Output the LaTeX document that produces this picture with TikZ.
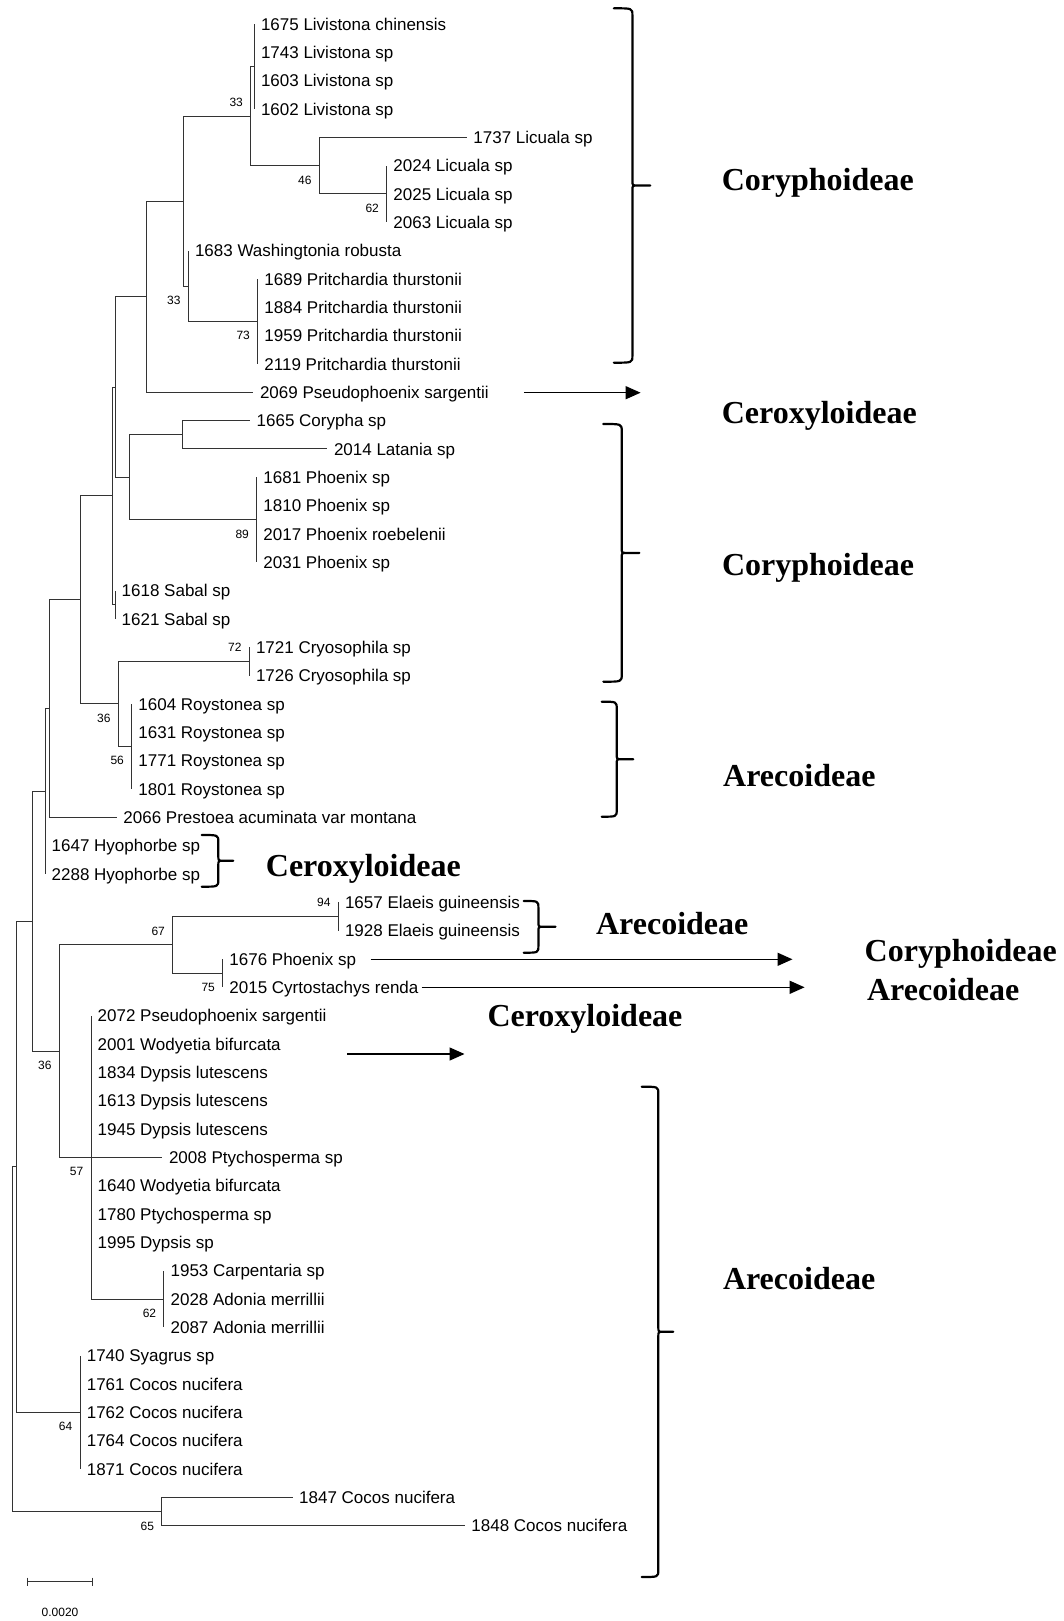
\documentclass[tikz,border=0pt]{standalone}
\usepackage{fontspec}
\setmainfont{Liberation Sans}
\newfontfamily\serifbf{Liberation Serif}
\usetikzlibrary{positioning,arrows.meta}

\def\dy{28.333}
\newcommand\grpbrace[6]{\draw[brc] (#1,#4) .. controls (#2,#4) .. (#2,{#4+7}) -- (#2,{#5-5})
  .. controls (#2,#5) .. ({#2+5},#5) -- (#3,#5)
  ({#2+5},#5) .. controls (#2,#5) .. (#2,{#5+5}) -- (#2,{#6-7}) .. controls (#2,#6) .. (#1,#6);}

\tikzset{
  leaf/.style={anchor=west,inner xsep=6.5pt,inner ysep=0pt,
    font=\fontsize{17}{20}\selectfont,text height=12.2pt,text depth=0pt},
  boot/.style={inner sep=0pt,font=\fontsize{12}{14}\selectfont,text height=8.6pt,text depth=0pt},
  br/.style={line width=1pt,draw=black!80},
  grp/.style={anchor=base west,inner sep=0pt,font=\serifbf\bfseries\fontsize{32}{36}\selectfont},
  brc/.style={line width=2.2pt,line cap=round,line join=round},
  arr/.style={line width=1.5pt,-{Triangle[length=15pt,width=13pt]}},
}

\begin{document}
\begin{tikzpicture}[x=1pt,y=-1pt]
\useasboundingbox (0,0) rectangle (1063,1621);

% leaves: tip x / label
\foreach \tx/\txt [count=\i from 0] in {
  254.3/1675 Livistona chinensis, 254.3/1743 Livistona sp, 254.3/1603 Livistona sp,
  254.3/1602 Livistona sp, 466.7/1737 Licuala sp, 386.7/2024 Licuala sp,
  386.7/2025 Licuala sp, 386.7/2063 Licuala sp, 188.3/1683 Washingtonia robusta,
  257.7/1689 Pritchardia thurstonii, 257.7/1884 Pritchardia thurstonii,
  257.7/1959 Pritchardia thurstonii, 257.7/2119 Pritchardia thurstonii,
  253.3/2069 Pseudophoenix sargentii, 250/1665 Corypha sp, 327.3/2014 Latania sp,
  256.7/1681 Phoenix sp, 256.7/1810 Phoenix sp, 256.7/2017 Phoenix roebelenii,
  256.7/2031 Phoenix sp, 115/1618 Sabal sp, 115/1621 Sabal sp,
  249.3/1721 Cryosophila sp, 249.3/1726 Cryosophila sp, 131.7/1604 Roystonea sp,
  131.7/1631 Roystonea sp, 131.7/1771 Roystonea sp, 131.7/1801 Roystonea sp,
  116.7/2066 Prestoea acuminata var montana, 45/1647 Hyophorbe sp, 45/2288 Hyophorbe sp,
  338.3/1657 Elaeis guineensis, 338.3/1928 Elaeis guineensis, 222.7/1676 Phoenix sp,
  222.7/2015 Cyrtostachys renda, 91/2072 Pseudophoenix sargentii,
  91/2001 Wodyetia bifurcata, 91/1834 Dypsis lutescens, 91/1613 Dypsis lutescens,
  91/1945 Dypsis lutescens, 162.3/2008 Ptychosperma sp, 91/1640 Wodyetia bifurcata,
  91/1780 Ptychosperma sp, 91/1995 Dypsis sp, 163.9/1953 Carpentaria sp,
  163.9/2028 Adonia merrillii, 163.9/2087 Adonia merrillii, 80.1/1740 Syagrus sp,
  80.1/1761 Cocos nucifera, 80.1/1762 Cocos nucifera, 80.1/1764 Cocos nucifera,
  80.1/1871 Cocos nucifera, 292.5/1847 Cocos nucifera, 464.7/1848 Cocos nucifera}
  \node[leaf] (t\i) at (\tx,{24+\i*\dy}) {\txt};

% internal nodes
\coordinate (nLiv) at (254.3,{24+1.5*\dy});
\coordinate (nLicIn) at (386.7,{24+6*\dy});
\coordinate (nLic) at (319.3,{24+5*\dy});
\coordinate (nLivLic) at (250.7,{24+3.25*\dy});
\coordinate (nPri) at (257.7,{24+10.5*\dy});
\coordinate (nWaPri) at (188.3,{24+9.25*\dy});
\coordinate (nPalm) at (183.3,{24+6.25*\dy});
\coordinate (nPse) at (146.7,{24+9.625*\dy});
\coordinate (nCoLa) at (182.3,{24+14.5*\dy});
\coordinate (nPho) at (256.7,{24+17.5*\dy});
\coordinate (nCoPho) at (129.3,{24+16*\dy});
\coordinate (nUp) at (115,{24+12.8125*\dy});
\coordinate (nSab) at (115,{24+20.5*\dy});
\coordinate (nSabUp) at (112.3,{24+16.656*\dy});
\coordinate (nCry) at (249.3,{24+22.5*\dy});
\coordinate (nRoy) at (131.7,{24+25.5*\dy});
\coordinate (nCryRoy) at (118.3,{24+24*\dy});
\coordinate (nCor) at (80.7,{24+20.328*\dy});
\coordinate (nPre) at (49,{24+24.164*\dy});
\coordinate (nHyo) at (45,{24+27.082*\dy});
\coordinate (nEla) at (338.3,{24+31.5*\dy});
\coordinate (nPhCy) at (222.7,{24+33.5*\dy});
\coordinate (nElaPh) at (172.7,{24+32.5*\dy});
\coordinate (nCarp) at (163.9,{24+45*\dy});
\coordinate (nDyp) at (91,{24+40*\dy});
\coordinate (nAre) at (59.3,{24+36.25*\dy});
\coordinate (nMid) at (32,{24+31.666*\dy});
\coordinate (nCoc) at (80.1,{24+49*\dy});
\coordinate (nMain) at (16.7,{24+40.333*\dy});
\coordinate (nCocB) at (161.8,{24+52.5*\dy});
\coordinate (nRoot) at (12,{24+46.417*\dy});

% branches
\foreach \p/\c in {nLiv/t0.west, nLiv/t1.west, nLiv/t2.west, nLiv/t3.west,
  nLivLic/nLiv, nLivLic/nLic, nLic/t4.west, nLic/nLicIn,
  nLicIn/t5.west, nLicIn/t6.west, nLicIn/t7.west,
  nWaPri/t8.west, nWaPri/nPri, nPri/t9.west, nPri/t10.west, nPri/t11.west, nPri/t12.west,
  nPalm/nLivLic, nPalm/nWaPri, nPse/nPalm, nPse/t13.west,
  nCoLa/t14.west, nCoLa/t15.west, nPho/t16.west, nPho/t17.west, nPho/t18.west, nPho/t19.west,
  nCoPho/nCoLa, nCoPho/nPho, nUp/nPse, nUp/nCoPho,
  nSab/t20.west, nSab/t21.west, nSabUp/nUp, nSabUp/nSab,
  nCry/t22.west, nCry/t23.west, nRoy/t24.west, nRoy/t25.west, nRoy/t26.west, nRoy/t27.west,
  nCryRoy/nCry, nCryRoy/nRoy, nCor/nSabUp, nCor/nCryRoy,
  nPre/nCor, nPre/t28.west, nHyo/nPre, nHyo/t29.west, nHyo/t30.west,
  nEla/t31.west, nEla/t32.west, nPhCy/t33.west, nPhCy/t34.west, nElaPh/nEla, nElaPh/nPhCy,
  nCarp/t44.west, nCarp/t45.west, nCarp/t46.west,
  nDyp/t35.west, nDyp/t36.west, nDyp/t37.west, nDyp/t38.west, nDyp/t39.west,
  nDyp/t41.west, nDyp/t42.west, nDyp/t43.west, nDyp/nCarp,
  nAre/nElaPh, nAre/nDyp, nAre/t40.west, nMid/nHyo, nMid/nAre,
  nCoc/t47.west, nCoc/t48.west, nCoc/t49.west, nCoc/t50.west, nCoc/t51.west,
  nMain/nMid, nMain/nCoc, nCocB/t52.west, nCocB/t53.west, nRoot/nMain, nRoot/nCocB}
  \draw[br] (\p) |- (\c);

% bootstrap values
\node[boot,above left=9.3pt and 7.6pt of nLivLic] (b1) {33};
\node[boot,below left=9.7pt and 7.6pt of nLic] (b2) {46};
\node[boot,below left=9.7pt and 7.6pt of nLicIn] (b3) {62};
\node[boot,below left=9.7pt and 7.6pt of nWaPri] (b4) {33};
\node[boot,below left=9.7pt and 7.6pt of nPri] (b5) {73};
\node[boot,below left=9.7pt and 7.6pt of nPho] (b6) {89};
\node[boot,above left=9.3pt and 7.6pt of nCry] (b7) {72};
\node[boot,below left=9.7pt and 7.6pt of nCryRoy] (b8) {36};
\node[boot,below left=9.7pt and 7.6pt of nRoy] (b9) {56};
\node[boot,above left=9.3pt and 7.6pt of nEla] (b10) {94};
\node[boot,above left=9.3pt and 7.6pt of nElaPh] (b11) {67};
\node[boot,below left=9.7pt and 7.6pt of nPhCy] (b12) {75};
\node[boot,below left=9.7pt and 7.6pt of nAre] (b13) {36};
\node[boot,below left=9.7pt and 7.6pt of nDyp] (b14) {57};
\node[boot,below left=9.7pt and 7.6pt of nCarp] (b15) {62};
\node[boot,below left=9.7pt and 7.6pt of nCoc] (b16) {64};
\node[boot,below left=9.7pt and 7.6pt of nCocB] (b17) {65};

% scale bar
\coordinate (sb1) at (27,1581.7);
\coordinate (sb2) at (92,1581.7);
\draw[br] (sb1) -- (sb2);
\draw[br] ([yshift=4pt]sb1) -- ([yshift=-4pt]sb1);
\draw[br] ([yshift=4pt]sb2) -- ([yshift=-4pt]sb2);
\node[boot] (sbl) at (60,1612) {0.0020};

% subfamily braces
\grpbrace{613.8}{632.4}{650.3}{8.3}{185.5}{362.7}
\grpbrace{603.3}{621.7}{639.3}{424}{552.9}{681.7}
\grpbrace{601.7}{616.7}{633.3}{701.7}{759.2}{816.7}
\grpbrace{201.7}{218.3}{233.3}{835}{860.7}{886.7}
\grpbrace{523.8}{538.4}{555.5}{901}{926.8}{952.7}
\grpbrace{641.7}{658.3}{673.3}{1086.7}{1331.8}{1577}

% arrows
\coordinate (a1s) at (523.9,392.7);
\coordinate (a1e) at (640.6,392.7);
\coordinate (a2s) at (370.6,959.3);
\coordinate (a2e) at (792.5,959.3);
\coordinate (a3s) at (421.7,987.3);
\coordinate (a3e) at (804.6,987.3);
\coordinate (a4s) at (347.2,1054);
\coordinate (a4e) at (464.5,1054);
\draw[arr] (a1s) -- (a1e);
\draw[arr] (a2s) -- (a2e);
\draw[arr] (a3s) -- (a3e);
\draw[arr] (a4s) -- (a4e);

% subfamily names
\node[grp] (g1) at (721.6,190.7) {Coryphoideae};
\node[grp] (g2) at (721.6,423.3) {Ceroxyloideae};
\node[grp] (g3) at (721.8,575.3) {Coryphoideae};
\node[grp] (g4) at (723,786.6) {Arecoideae};
\node[grp] (g5) at (265.7,876.7) {Ceroxyloideae};
\node[grp] (g6) at (595.9,934) {Arecoideae};
\node[grp] (g7) at (864.5,961.7) {Coryphoideae};
\node[grp] (g8) at (866.9,1000) {Arecoideae};
\node[grp] (g9) at (487.3,1026) {Ceroxyloideae};
\node[grp] (g10) at (722.8,1289) {Arecoideae};
\end{tikzpicture}
\end{document}
